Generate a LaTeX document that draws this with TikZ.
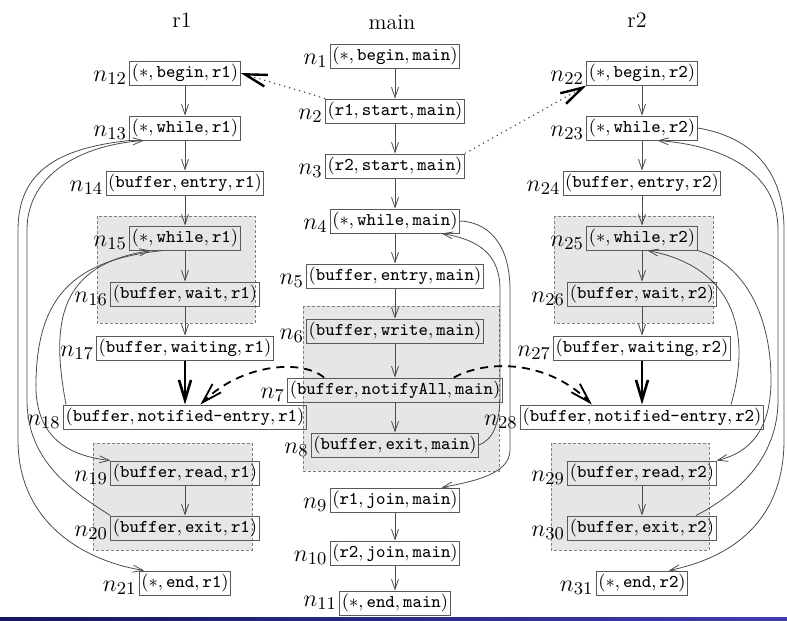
\documentclass[tikz,border=0pt]{standalone}
\usepackage{amsmath}
\usepackage{tikz}
\usetikzlibrary{arrows.meta}

\definecolor{grpfill}{RGB}{230,230,230}
\definecolor{barleft}{RGB}{22,22,90}
\definecolor{barright}{RGB}{62,62,178}

\newcommand{\ev}[3]{$(#1,\texttt{#2},\texttt{#3})$}

\tikzset{
  act/.style={draw=gray!70!black, line width=0.5pt, inner xsep=1pt, inner ysep=1.5pt,
    font=\fontsize{9}{10}\selectfont},
  lab/.style={font=\fontsize{13}{15}\selectfont, inner sep=1pt, yshift=-2.5pt},
  title/.style={font=\fontsize{11}{13}\selectfont},
  grp/.style={fill=grpfill, draw=gray, dash pattern=on 1.5pt off 1pt, line width=0.4pt},
  flow/.style={draw=gray!60!black, line width=0.4pt, -{Straight Barb[length=5pt,width=3.5pt]}},
  sync/.style={line width=1.3pt, -{Straight Barb[length=10pt,width=6pt]}},
  spawn/.style={draw=gray!60!black, dotted, line width=0.6pt,
    -{Straight Barb[length=11pt,width=6pt,line width=1.2pt,color=black]}},
  notify/.style={dash pattern=on 4pt off 3pt, line width=0.9pt,
    -{Straight Barb[length=10pt,width=6pt,line width=0.9pt]}}
}

\begin{document}
\begin{tikzpicture}[x=0.5pt,y=-0.5pt]
\useasboundingbox (0,0) rectangle (787,621);

% grey regions (synchronized blocks)
\draw[grp] (97,216) rectangle (255,323);
\draw[grp] (93,443) rectangle (252,550);
\draw[grp] (303,306) rectangle (499,471);
\draw[grp] (554,216) rectangle (713,323);
\draw[grp] (551,443) rectangle (709,550);

% thread names
\node[title] (tr1) at (182,20) {r1};
\node[title] (tmain) at (392,22) {main};
\node[title] (tr2) at (637,20) {r2};

% thread main
\node[act, label={[lab]left:$n_{1}$}] (n1) at (395,56) {\ev{\ast}{begin}{main}};
\node[act, label={[lab]left:$n_{2}$}] (n2) at (395,111) {\ev{\texttt{r1}}{start}{main}};
\node[act, label={[lab]left:$n_{3}$}] (n3) at (395,166) {\ev{\texttt{r2}}{start}{main}};
\node[act, label={[lab]left:$n_{4}$}] (n4) at (395,221) {\ev{\ast}{while}{main}};
\node[act, label={[lab]left:$n_{5}$}] (n5) at (395,276) {\ev{\texttt{buffer}}{entry}{main}};
\node[act, label={[lab]left:$n_{6}$}] (n6) at (395,331) {\ev{\texttt{buffer}}{write}{main}};
\node[act, label={[lab]left:$n_{7}$}] (n7) at (395,390) {\ev{\texttt{buffer}}{notifyAll}{main}};
\node[act, label={[lab]left:$n_{8}$}] (n8) at (395,445) {\ev{\texttt{buffer}}{exit}{main}};
\node[act, label={[lab]left:$n_{9}$}] (n9) at (395,500) {\ev{\texttt{r1}}{join}{main}};
\node[act, label={[lab]left:$n_{10}$}] (n10) at (395,553) {\ev{\texttt{r2}}{join}{main}};
\node[act, label={[lab, yshift=2.5pt]left:$n_{11}$}] (n11) at (395,603) {\ev{\ast}{end}{main}};

% thread r1
\node[act, label={[lab]left:$n_{12}$}] (n12) at (185,73) {\ev{\ast}{begin}{r1}};
\node[act, label={[lab]left:$n_{13}$}] (n13) at (185,128) {\ev{\ast}{while}{r1}};
\node[act, label={[lab]left:$n_{14}$}] (n14) at (185,183) {\ev{\texttt{buffer}}{entry}{r1}};
\node[act, label={[lab]left:$n_{15}$}] (n15) at (185,238) {\ev{\ast}{while}{r1}};
\node[act, label={[lab]left:$n_{16}$}] (n16) at (185,294) {\ev{\texttt{buffer}}{wait}{r1}};
\node[act, label={[lab]left:$n_{17}$}] (n17) at (185,348) {\ev{\texttt{buffer}}{waiting}{r1}};
\node[act, label={[lab]left:$n_{18}$}] (n18) at (185,417) {\ev{\texttt{buffer}}{notified-entry}{r1}};
\node[act, label={[lab]left:$n_{19}$}] (n19) at (185,473) {\ev{\texttt{buffer}}{read}{r1}};
\node[act, label={[lab]left:$n_{20}$}] (n20) at (185,528) {\ev{\texttt{buffer}}{exit}{r1}};
\node[act, label={[lab]left:$n_{21}$}] (n21) at (185,583) {\ev{\ast}{end}{r1}};

% thread r2
\node[act, label={[lab]left:$n_{22}$}] (n22) at (642,73) {\ev{\ast}{begin}{r2}};
\node[act, label={[lab]left:$n_{23}$}] (n23) at (642,128) {\ev{\ast}{while}{r2}};
\node[act, label={[lab]left:$n_{24}$}] (n24) at (642,183) {\ev{\texttt{buffer}}{entry}{r2}};
\node[act, label={[lab]left:$n_{25}$}] (n25) at (642,238) {\ev{\ast}{while}{r2}};
\node[act, label={[lab]left:$n_{26}$}] (n26) at (642,294) {\ev{\texttt{buffer}}{wait}{r2}};
\node[act, label={[lab]left:$n_{27}$}] (n27) at (642,348) {\ev{\texttt{buffer}}{waiting}{r2}};
\node[act, label={[lab]left:$n_{28}$}] (n28) at (642,417) {\ev{\texttt{buffer}}{notified-entry}{r2}};
\node[act, label={[lab]left:$n_{29}$}] (n29) at (642,473) {\ev{\texttt{buffer}}{read}{r2}};
\node[act, label={[lab]left:$n_{30}$}] (n30) at (642,528) {\ev{\texttt{buffer}}{exit}{r2}};
\node[act, label={[lab]left:$n_{31}$}] (n31) at (642,583) {\ev{\ast}{end}{r2}};

% straight control flow
\foreach \a/\b in {n1/n2,n2/n3,n3/n4,n4/n5,n5/n6,n6/n7,n7/n8,n9/n10,n10/n11,
    n12/n13,n13/n14,n14/n15,n15/n16,n16/n17,n19/n20,
    n22/n23,n23/n24,n24/n25,n25/n26,n26/n27,n29/n30}
  \draw[flow] (\a) -- (\b);

% loops of main
\draw[flow] (n8.east) .. controls (492,440) and (500,425) .. (500,395) -- (500,290)
  .. controls (500,255) and (480,240) .. (n4.-15);
\draw[flow] (n4.east) .. controls (485,222) and (510,240) .. (510,290) -- (510,450)
  .. controls (510,475) and (470,482) .. (n9.15);

% loops of r1
\draw[flow] (n13.south west) .. controls (60,148) and (18,170) .. (18,230) -- (18,440)
  .. controls (18,520) and (80,560) .. (n21.163);
\draw[flow] (n20.north west) .. controls (70,490) and (27,460) .. (27,400) -- (27,230)
  .. controls (27,175) and (80,145) .. (n13.197);
\draw[flow] (n18.174) .. controls (50,320) and (60,265) .. (n15.200);
\draw[flow] (n15.210) .. controls (70,260) and (38,300) .. (36,380)
  .. controls (34,430) and (60,455) .. (n19.north west);

% loops of r2
\draw[flow] (n23.east) .. controls (740,135) and (784,160) .. (784,230) -- (784,440)
  .. controls (784,530) and (720,560) .. (n31.25);
\draw[flow] (n30.13) .. controls (735,495) and (778,460) .. (778,400) -- (778,230)
  .. controls (778,170) and (720,145) .. (n23.-39);
\draw[flow] (n28.8) .. controls (750,340) and (740,268) .. (n25.-67);
\draw[flow] (n25.south east) .. controls (740,262) and (771,310) .. (771,380)
  .. controls (771,440) and (740,455) .. (n29.north east);

% start of threads
\draw[spawn] (n2.north west) -- (n12.east);
\draw[spawn] (n3.north east) -- (n22.south west);

% wait / notify
\draw[sync] (n17) -- (n18);
\draw[sync] (n27) -- (n28);
\draw[notify] (n7.170) .. controls (300,358) and (240,365) .. (n18.39);
\draw[notify] (n7.12) .. controls (490,358) and (550,362) .. (n28.166);

% slide footer
\shade[left color=barleft, right color=barright] (0,617) rectangle (787,621);

\end{tikzpicture}
\end{document}
